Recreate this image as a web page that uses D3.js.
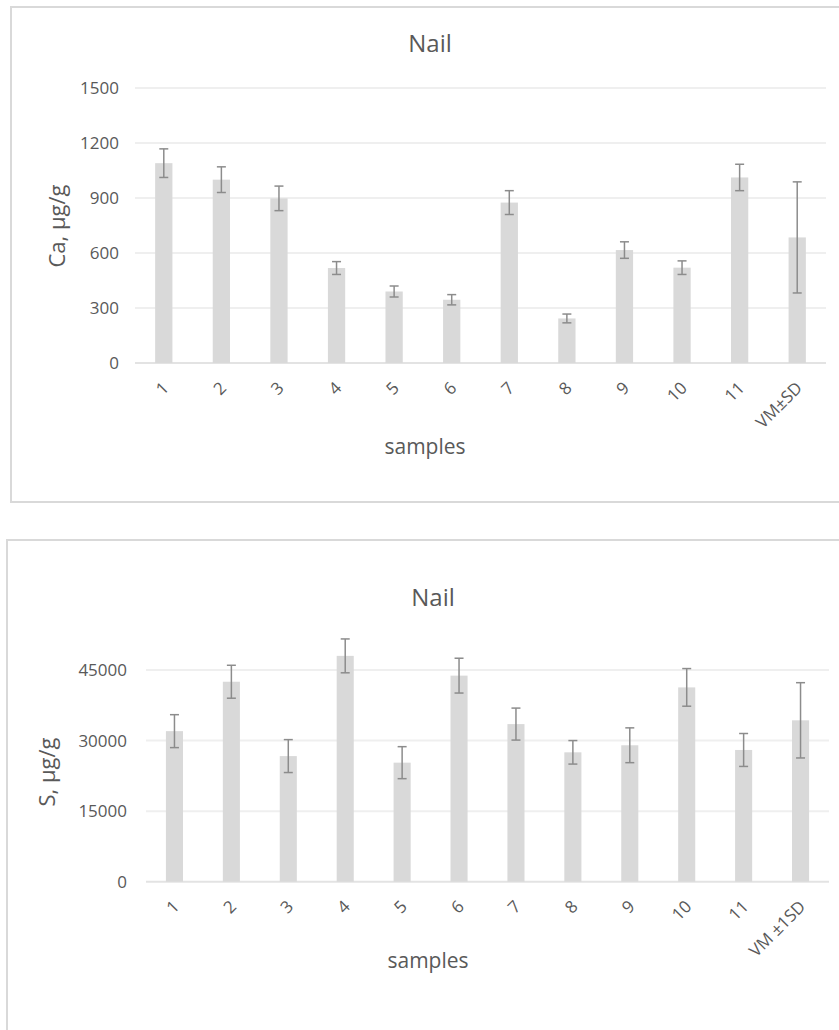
<!DOCTYPE html>
<html>
<head>
<meta charset="utf-8">
<script src="https://cdn.jsdelivr.net/npm/d3@7"></script>
<style>
  body { margin: 0; background: #fff; }
  text { font-family: "Open Sans", sans-serif; fill: #595959; }
</style>
</head>
<body>
<div id="main"></div>
<script>
// Ca chart
const caSamples = ["1", "2", "3", "4", "5", "6", "7", "8", "9", "10", "11", "VM±SD"];
const caMeans = [1090, 1000, 898, 518, 390, 345, 875, 243, 616, 520, 1012, 685];
const caErrors = [78, 70, 67, 35, 30, 28, 65, 24, 45, 37, 72, 303];
const caTicks = [0, 300, 600, 900, 1200, 1500];

// S chart
const sSamples = ["1", "2", "3", "4", "5", "6", "7", "8", "9", "10", "11", "VM ±1SD"];
const sMeans = [32000, 42500, 26700, 48000, 25300, 43800, 33500, 27500, 29000, 41300, 28000, 34300];
const sErrors = [3500, 3500, 3500, 3600, 3400, 3700, 3400, 2500, 3700, 4000, 3500, 8000];
const sTicks = [0, 15000, 30000, 45000];

const ctx = {
  SVG_W: 839,
  SVG_H: 1030,
};

function drawChart(svg, opt) {
  // outer frame
  svg.append("rect")
    .attr("x", opt.frame[0]).attr("y", opt.frame[1])
    .attr("width", opt.frame[2]).attr("height", opt.frame[3])
    .attr("fill", "none").attr("stroke", "#d9d9d9").attr("stroke-width", 2);

  let x = d3.scaleBand()
    .domain(opt.cats)
    .range(opt.xRange)
    .paddingInner(0.7).paddingOuter(0.35);

  let y = d3.scaleLinear()
    .domain(opt.yDomain)
    .range(opt.yRange);

  let g = svg.append("g");

  // gridlines
  g.selectAll(".grid")
    .data(opt.ticks)
    .enter().append("line")
    .attr("x1", opt.xRange[0]).attr("x2", opt.xRange[1])
    .attr("y1", d => y(d)).attr("y2", d => y(d))
    .attr("stroke", d => d === 0 ? "#e3e3e3" : "#efefef")
    .attr("stroke-width", 2);

  // y tick labels
  let yAxis = d3.axisLeft(y).tickValues(opt.ticks).tickSize(0).tickPadding(0).tickFormat(d3.format("d"));
  let ya = g.append("g")
    .attr("transform", `translate(${opt.yLabelX},0)`)
    .call(yAxis);
  ya.select(".domain").remove();
  ya.selectAll("text").style("font-size", "17px").attr("fill", "#595959")
    .style("font-family", "'Open Sans', sans-serif");

  // bars
  g.selectAll(".bar")
    .data(opt.cats)
    .enter().append("rect")
    .attr("x", d => x(d))
    .attr("width", x.bandwidth())
    .attr("y", (d, i) => y(opt.means[i]))
    .attr("height", (d, i) => y(0) - y(opt.means[i]))
    .attr("fill", "#d9d9d9");

  // error bars
  let eb = g.selectAll(".err")
    .data(opt.cats)
    .enter().append("g")
    .attr("transform", d => `translate(${x(d) + x.bandwidth() / 2},0)`);
  eb.append("line")
    .attr("y1", (d, i) => y(opt.means[i] + opt.errs[i]))
    .attr("y2", (d, i) => y(opt.means[i] - opt.errs[i]))
    .attr("stroke", "#8c8c8c").attr("stroke-width", 1.5);
  [1, -1].forEach(s => {
    eb.append("line")
      .attr("x1", -4.5).attr("x2", 4.5)
      .attr("y1", (d, i) => y(opt.means[i] + s * opt.errs[i]))
      .attr("y2", (d, i) => y(opt.means[i] + s * opt.errs[i]))
      .attr("stroke", "#8c8c8c").attr("stroke-width", 1.5);
  });

  // x tick labels, rotated
  g.selectAll(".xlab")
    .data(opt.cats)
    .enter().append("text")
    .attr("text-anchor", "end")
    .attr("transform", d => `translate(${x(d) + x.bandwidth() / 2 + 6},${y(0) + 26}) rotate(-45)`)
    .style("font-size", "17px")
    .text(d => d);

  // titles
  svg.append("text")
    .attr("x", opt.titlePos[0]).attr("y", opt.titlePos[1])
    .attr("text-anchor", "middle")
    .style("font-size", "24px")
    .text("Nail");

  svg.append("text")
    .attr("x", opt.xTitlePos[0]).attr("y", opt.xTitlePos[1])
    .attr("text-anchor", "middle")
    .style("font-size", "21px")
    .text("samples");

  svg.append("text")
    .attr("transform", `translate(${opt.yTitlePos[0]},${opt.yTitlePos[1]}) rotate(-90)`)
    .attr("text-anchor", "middle")
    .style("font-size", "22px")
    .text(opt.yTitle);
}

function createViz() {
  let svgEl = d3.select("#main").append("svg")
    .attr("width", ctx.SVG_W)
    .attr("height", ctx.SVG_H);

  drawChart(svgEl, {
    frame: [11, 7, 840, 495],
    cats: caSamples, means: caMeans, errs: caErrors, ticks: caTicks,
    xRange: [135, 826], yDomain: [0, 1500], yRange: [363, 88],
    yLabelX: 119,
    titlePos: [430, 52],
    xTitlePos: [425, 454],
    yTitlePos: [65, 226],
    yTitle: "Ca, μg/g",
  });

  drawChart(svgEl, {
    frame: [7, 540, 840, 500],
    cats: sSamples, means: sMeans, errs: sErrors, ticks: sTicks,
    xRange: [146, 829], yDomain: [0, 52500], yRange: [881.7, 634.7],
    yLabelX: 127,
    titlePos: [433, 606],
    xTitlePos: [428, 968],
    yTitlePos: [55, 772],
    yTitle: "S, μg/g",
  });
}

createViz();
</script>
</body>
</html>
